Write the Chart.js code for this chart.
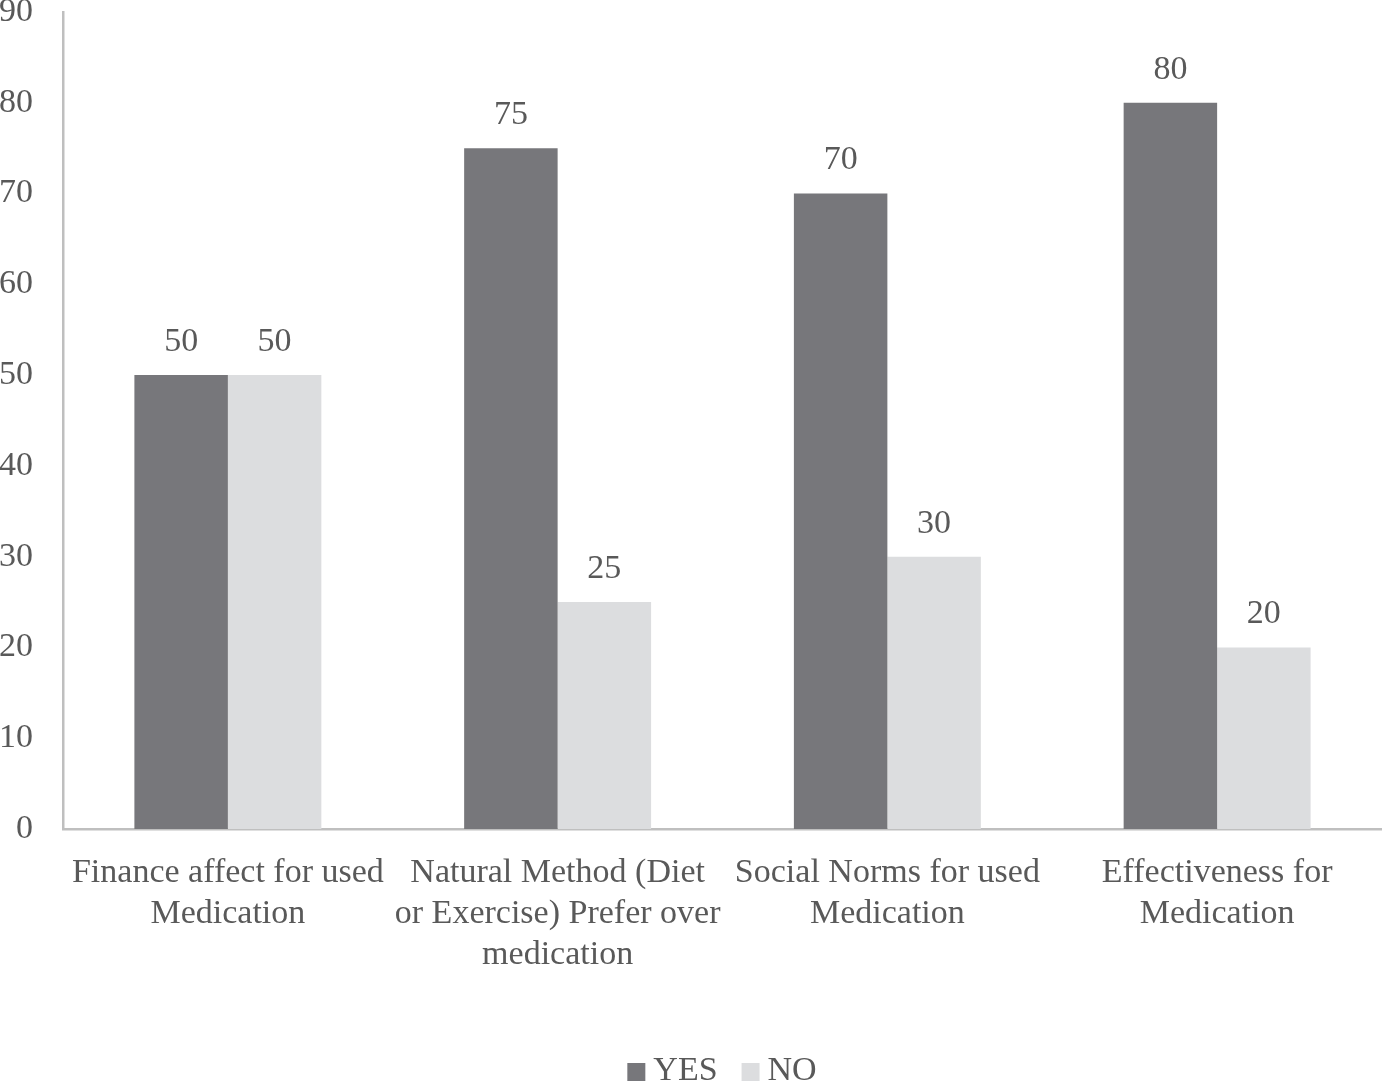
<!DOCTYPE html>
<html>
<head>
<meta charset="utf-8">
<script src="https://cdn.jsdelivr.net/npm/chart.js@4.4.1/dist/chart.umd.min.js"></script>
<style>
  html, body { margin: 0; padding: 0; background: #fff; overflow: hidden; }
  #wrap { width: 1382px; height: 1083px; }
</style>
</head>
<body>
<div id="wrap"><canvas id="chart" width="1382" height="1083"></canvas></div>
<script>
const categories = [
  ["Finance affect for used", "Medication"],
  ["Natural Method (Diet", "or Exercise) Prefer over", "medication"],
  ["Social Norms for used", "Medication"],
  ["Effectiveness for", "Medication"]
];
const yesValues = [50, 75, 70, 80];
const noValues = [50, 25, 30, 20];
const yMin = 0, yMax = 90, yStep = 10;

const textColor = "#595959";
const fontFamily = "'Liberation Serif', 'Times New Roman', serif";

// value labels above each bar
const valueLabels = {
  id: "valueLabels",
  afterDatasetsDraw(chart) {
    const ctx = chart.ctx;
    ctx.save();
    ctx.font = "34px " + fontFamily;
    ctx.fillStyle = textColor;
    ctx.textAlign = "center";
    ctx.textBaseline = "middle";
    chart.data.datasets.forEach((ds, i) => {
      chart.getDatasetMeta(i).data.forEach((bar, j) => {
        ctx.fillText(ds.data[j], bar.x, bar.y - 33);
      });
    });
    ctx.restore();
  }
};

// compact legend under the chart
const bottomLegend = {
  id: "bottomLegend",
  afterDraw(chart) {
    const ctx = chart.ctx;
    ctx.save();
    ctx.font = "34px " + fontFamily;
    ctx.textBaseline = "middle";
    const box = 18, gap = 8, itemGap = 24;
    const items = chart.data.datasets.map(ds => ({
      label: ds.label, color: ds.backgroundColor, w: ctx.measureText(ds.label).width
    }));
    const total = items.reduce((s, it) => s + box + gap + it.w, 0) + itemGap * (items.length - 1);
    let x = 722 - total / 2;
    const y = 1071;
    items.forEach(it => {
      ctx.fillStyle = it.color;
      ctx.fillRect(x, y - 8, box, box);
      x += box + gap;
      ctx.fillStyle = textColor;
      ctx.fillText(it.label, x, y);
      x += it.w + itemGap;
    });
    ctx.restore();
  }
};

new Chart(document.getElementById("chart"), {
  type: "bar",
  data: {
    labels: categories,
    datasets: [
      { label: "YES", data: yesValues, backgroundColor: "#77777b" },
      { label: "NO", data: noValues, backgroundColor: "#dcdddf" }
    ]
  },
  options: {
    responsive: false,
    animation: false,
    devicePixelRatio: 1,
    layout: { padding: { top: 12, left: 0, right: 0, bottom: 0 } },
    datasets: { bar: { barPercentage: 1, categoryPercentage: 0.567 } },
    plugins: {
      legend: { display: false },
      tooltip: { enabled: false }
    },
    scales: {
      x: {
        grid: { display: false, drawTicks: false },
        border: { display: true, color: "#bfbfbf", width: 2.5 },
        ticks: {
          color: textColor,
          padding: 24,
          maxRotation: 0,
          autoSkip: false,
          font: { family: fontFamily, size: 34, lineHeight: 1.2 }
        },
        afterFit(scale) {
          scale.height = 1083 - 829;
          scale.paddingLeft = 0;
          scale.paddingRight = 0;
        }
      },
      y: {
        min: yMin,
        max: yMax,
        grid: { display: false, drawTicks: false },
        border: { display: true, color: "#bfbfbf", width: 2.5 },
        ticks: {
          stepSize: yStep,
          color: textColor,
          padding: 30,
          font: { family: fontFamily, size: 34 }
        },
        afterFit(scale) {
          scale.width = 63;
          scale.paddingTop = 0;
          scale.paddingBottom = 0;
        }
      }
    }
  },
  plugins: [valueLabels, bottomLegend]
});
</script>
</body>
</html>
